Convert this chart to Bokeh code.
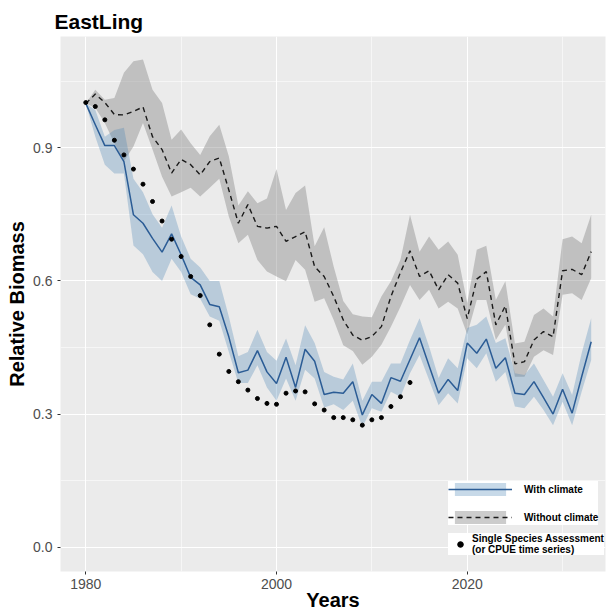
from bokeh.plotting import figure
from bokeh.models import (ColumnDataSource, FixedTicker, PrintfTickFormatter,
                          Legend, LegendItem, Range1d)
from bokeh.embed import file_html
from bokeh.resources import INLINE

# ---------------- data ----------------
years = list(range(1980, 2034))

with_climate = [1.000, 0.952, 0.905, 0.905, 0.869, 0.749, 0.730, 0.696, 0.665, 0.706,
                0.659, 0.608, 0.591, 0.547, 0.542, 0.474, 0.393, 0.399, 0.443, 0.395,
                0.369, 0.428, 0.360, 0.446, 0.419, 0.344, 0.349, 0.347, 0.373, 0.298,
                0.344, 0.324, 0.382, 0.374, 0.423, 0.472, 0.409, 0.347, 0.378, 0.353,
                0.460, 0.437, 0.469, 0.403, 0.427, 0.347, 0.344, 0.373, 0.337, 0.300,
                0.356, 0.302, 0.384, 0.463]
with_upper = [1.000, 0.985, 0.925, 0.940, 0.945, 0.830, 0.800, 0.750, 0.720, 0.770,
              0.700, 0.650, 0.630, 0.600, 0.600, 0.520, 0.430, 0.440, 0.490, 0.440,
              0.420, 0.470, 0.410, 0.500, 0.460, 0.395, 0.384, 0.378, 0.414, 0.330,
              0.373, 0.373, 0.414, 0.414, 0.467, 0.516, 0.452, 0.381, 0.426, 0.403,
              0.494, 0.501, 0.520, 0.460, 0.471, 0.392, 0.388, 0.414, 0.377, 0.339,
              0.392, 0.343, 0.437, 0.516]
with_lower = [1.000, 0.925, 0.862, 0.842, 0.842, 0.680, 0.660, 0.620, 0.600, 0.650,
              0.620, 0.570, 0.560, 0.520, 0.510, 0.440, 0.370, 0.370, 0.410, 0.360,
              0.330, 0.380, 0.330, 0.400, 0.380, 0.315, 0.322, 0.309, 0.330, 0.271,
              0.313, 0.305, 0.350, 0.339, 0.392, 0.433, 0.377, 0.320, 0.347, 0.324,
              0.426, 0.403, 0.437, 0.373, 0.395, 0.317, 0.313, 0.339, 0.309, 0.275,
              0.328, 0.275, 0.350, 0.422]

without_climate = [1.000, 1.021, 1.002, 0.975, 0.974, 0.982, 0.992, 0.925, 0.896, 0.843,
                   0.874, 0.862, 0.839, 0.869, 0.877, 0.805, 0.730, 0.772, 0.723, 0.719,
                   0.723, 0.689, 0.700, 0.711, 0.632, 0.610, 0.565, 0.512, 0.478, 0.466,
                   0.475, 0.497, 0.565, 0.619, 0.668, 0.610, 0.623, 0.580, 0.614, 0.595,
                   0.515, 0.604, 0.621, 0.501, 0.544, 0.413, 0.418, 0.467, 0.486, 0.474,
                   0.623, 0.626, 0.614, 0.666]
without_upper = [1.000, 1.031, 1.008, 1.012, 1.069, 1.095, 1.099, 1.031, 1.001, 0.918,
                 0.941, 0.910, 0.884, 0.926, 0.952, 0.881, 0.770, 0.802, 0.775, 0.786,
                 0.852, 0.760, 0.798, 0.815, 0.678, 0.721, 0.632, 0.555, 0.525, 0.520,
                 0.518, 0.565, 0.599, 0.648, 0.749, 0.666, 0.700, 0.670, 0.689, 0.659,
                 0.550, 0.670, 0.679, 0.557, 0.599, 0.459, 0.463, 0.523, 0.538, 0.520,
                 0.694, 0.700, 0.685, 0.749]
without_lower = [1.000, 0.990, 0.956, 0.910, 0.869, 0.903, 0.956, 0.896, 0.835, 0.790,
                 0.800, 0.810, 0.790, 0.810, 0.830, 0.745, 0.685, 0.704, 0.647, 0.621,
                 0.610, 0.599, 0.647, 0.625, 0.553, 0.561, 0.512, 0.455, 0.442, 0.411,
                 0.429, 0.456, 0.497, 0.542, 0.591, 0.557, 0.580, 0.538, 0.553, 0.538,
                 0.480, 0.557, 0.557, 0.467, 0.501, 0.384, 0.384, 0.429, 0.444, 0.433,
                 0.569, 0.572, 0.557, 0.606]

ssa_years = list(range(1980, 2015))
ssa = [1.002, 0.993, 0.963, 0.917, 0.884, 0.852, 0.818, 0.779, 0.735, 0.694,
       0.655, 0.610, 0.567, 0.501, 0.435, 0.396, 0.373, 0.354, 0.335, 0.324,
       0.322, 0.347, 0.352, 0.350, 0.323, 0.309, 0.292, 0.292, 0.287, 0.275,
       0.287, 0.292, 0.317, 0.339, 0.371]

x_ticks = [1980, 2000, 2020]
x_minor = [1990, 2010, 2030]
y_ticks = [0.0, 0.3, 0.6, 0.9]
y_minor = [0.15, 0.45, 0.75, 1.05]

title_text = "EastLing"
x_label = "Years"
y_label = "Relative Biomass"
labels = ["With climate", "Without climate",
          "Single Species Assessment\n(or CPUE time series)"]

# ---------------- figure ----------------
FONT = "Liberation Sans"

src = ColumnDataSource(dict(year=years, wc=with_climate, wc_hi=with_upper, wc_lo=with_lower,
                            wo=without_climate, wo_hi=without_upper, wo_lo=without_lower))
ssa_src = ColumnDataSource(dict(year=ssa_years, v=ssa))

p = figure(width=606, height=613, output_backend="svg", toolbar_location=None,
           x_range=Range1d(1977.35, 2034.5), y_range=Range1d(-0.0548, 1.1508),
           min_border_left=60, min_border_right=1, min_border_top=36, min_border_bottom=42,
           title=title_text)

p.background_fill_color = "#EBEBEB"
p.border_fill_color = "white"
p.outline_line_color = None

p.title.text_font = FONT
p.title.text_font_size = "21px"
p.title.text_font_style = "bold"
p.title.text_color = "black"
p.title.offset = -6
p.title.standoff = 8

# axes
p.xaxis.ticker = FixedTicker(ticks=x_ticks, minor_ticks=x_minor)
p.yaxis.ticker = FixedTicker(ticks=y_ticks, minor_ticks=y_minor)
p.yaxis.formatter = PrintfTickFormatter(format="%.1f")
for ax in (p.xaxis[0], p.yaxis[0]):
    ax.axis_line_color = None
    ax.minor_tick_line_color = None
    ax.major_tick_line_color = "#333333"
    ax.major_tick_in = 0
    ax.major_tick_out = 3
    ax.major_label_text_font = FONT
    ax.major_label_text_font_size = "14px"
    ax.major_label_text_color = "#4D4D4D"
    ax.major_label_standoff = 3
    ax.axis_label_text_font = FONT
    ax.axis_label_text_font_size = "20px"
    ax.axis_label_text_font_style = "bold"
    ax.axis_label_text_color = "black"
p.xaxis.axis_label = x_label
p.yaxis.axis_label = y_label
p.xaxis.axis_label_standoff = -3
p.yaxis.axis_label_standoff = 2
p.yaxis.major_label_standoff = 4

# grid
for g in (p.xgrid[0], p.ygrid[0]):
    g.grid_line_color = "white"
    g.grid_line_width = 1.1
    g.minor_grid_line_color = "white"
    g.minor_grid_line_width = 0.55

# glyphs
grey_band = p.varea(x="year", y1="wo_lo", y2="wo_hi", source=src,
                    fill_color="#7F7F7F", fill_alpha=0.4)
blue_band = p.varea(x="year", y1="wc_lo", y2="wc_hi", source=src,
                    fill_color="#4682B4", fill_alpha=0.3)
dash_line = p.line(x="year", y="wo", source=src, line_color="#1A1A1A",
                   line_width=1.4, line_dash="5 4")
blue_line = p.line(x="year", y="wc", source=src, line_color="#2B5C95", line_width=1.5)
dots = p.scatter(x="year", y="v", source=ssa_src, size=4, color="black")

# legends
common = dict(background_fill_color="white", background_fill_alpha=1.0,
              border_line_color=None, label_text_font=FONT,
              label_text_font_size="10px", label_text_font_style="bold",
              label_text_color="black", margin=0)

leg_b = Legend(items=[LegendItem(label=labels[2], renderers=[dots])],
               location=(388, 16), glyph_width=24, glyph_height=14, padding=6,
               label_standoff=0, label_height=14, **common)
leg_a = Legend(items=[LegendItem(label=labels[0], renderers=[blue_band, blue_line]),
                      LegendItem(label=labels[1], renderers=[grey_band, dash_line])],
               location=(388, 46), glyph_width=64, glyph_height=16, padding=5,
               spacing=12, label_standoff=12, label_height=16, **common)
p.add_layout(leg_b)
p.add_layout(leg_a)

open("out.html", "w").write(file_html(p, INLINE))
